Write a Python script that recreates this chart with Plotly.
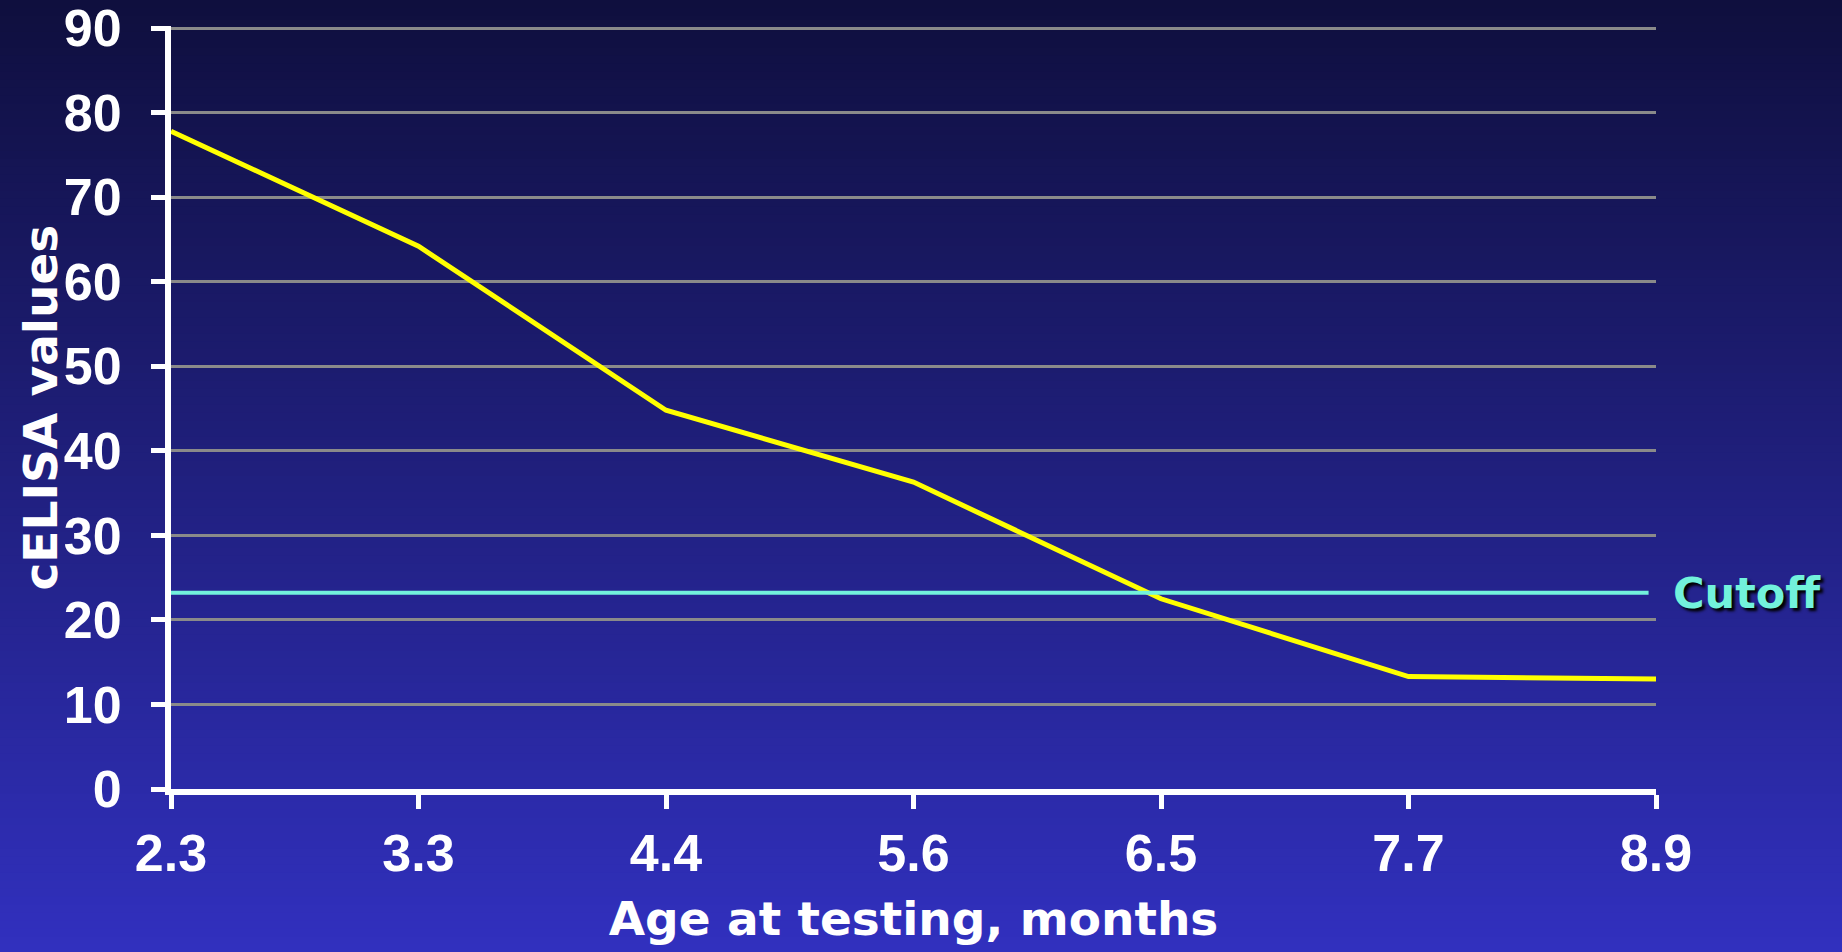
import plotly.graph_objects as go

# ---- data ----
ages = ["2.3", "3.3", "4.4", "5.6", "6.5", "7.7", "8.9"]
celisa = [77.8, 64.2, 44.8, 36.3, 22.5, 13.3, 13.0]
cutoff = 23.2
y_ticks = [0, 10, 20, 30, 40, 50, 60, 70, 80, 90]

# ---- geometry / style ----
W, H = 1842, 952
ML, MR, MT, MB = 171, 186, 26, 163
PW, PH = W - ML - MR, H - MT - MB

TOP = (15, 15, 62)
BOT = (49, 48, 190)

shapes = []
N = 120
for i in range(N):
    t = i / (N - 1)
    c = tuple(round(TOP[k] + (BOT[k] - TOP[k]) * t) for k in range(3))
    py0 = i * H / N - (40 if i == 0 else 0)
    py1 = (i + 1) * H / N + (40 if i == N - 1 else 1)
    y_top = (H - MB - py0) / PH
    y_bot = (H - MB - py1) / PH
    shapes.append(dict(type="rect", xref="paper", yref="paper",
                       x0=-0.3, x1=1.4, y0=y_bot, y1=y_top,
                       fillcolor="rgb(%d,%d,%d)" % c, line=dict(width=0),
                       layer="below"))

# cutoff line
shapes.append(dict(type="line", xref="paper", yref="y", x0=0, x1=0.995,
                   y0=cutoff, y1=cutoff,
                   line=dict(color="#72F2DC", width=4), layer="above"))

x_idx = list(range(len(ages)))

fig = go.Figure()
fig.add_trace(go.Scatter(x=x_idx, y=celisa, mode="lines",
                         line=dict(color="#FFFF00", width=5),
                         showlegend=False, hoverinfo="skip"))

tick_font = dict(family="Liberation Sans, Arial, sans-serif", size=52,
                 color="white", weight="bold")
title_font = dict(family="Comic Sans MS, DejaVu Sans, sans-serif", size=47,
                  color="white", weight="bold")

fig.update_layout(
    width=W, height=H,
    margin=dict(l=ML, r=MR, t=MT, b=MB, pad=0, autoexpand=False),
    paper_bgcolor="rgb(34,33,128)",
    plot_bgcolor="rgba(0,0,0,0)",
    shapes=shapes,
    showlegend=False,
    annotations=[
        dict(text="Cutoff", xref="paper", yref="y", x=1.010, y=cutoff,
             xanchor="left", yanchor="middle", showarrow=False,
             font=dict(family="Comic Sans MS, DejaVu Sans, sans-serif",
                       size=43, color="#72F2DC",
                       shadow="3px 3px 3px black", weight="bold")),
        dict(text="cELISA values", xref="paper", yref="paper",
             x=-131 / PW, y=0.5, xanchor="center", yanchor="middle",
             textangle=-90, showarrow=False, font=title_font),
    ],
)

fig.update_xaxes(
    range=[0, len(ages) - 1], tickmode="array", tickvals=x_idx, ticktext=ages,
    showgrid=False, zeroline=False, automargin=False,
    showline=True, linecolor="white", linewidth=6,
    ticks="outside", ticklen=14, tickwidth=5, tickcolor="white",
    tickfont=tick_font, ticklabelstandoff=0, ticklabeloverflow="allow",
    title=dict(text="Age at testing, months", font=title_font, standoff=23),
)
fig.update_yaxes(
    range=[0, 90.25], tickmode="array", tickvals=y_ticks,
    showgrid=True, gridcolor="#8a8a8a", gridwidth=3, zeroline=False,
    automargin=False,
    showline=True, linecolor="white", linewidth=6,
    ticks="outside", ticklen=14, tickwidth=5, tickcolor="white",
    tickfont=tick_font, ticklabelstandoff=19, ticklabeloverflow="allow",
)

fig.write_html("out.html", config={"displayModeBar": False},
               post_script="document.body.style.margin='0';document.body.style.overflow='hidden';")
